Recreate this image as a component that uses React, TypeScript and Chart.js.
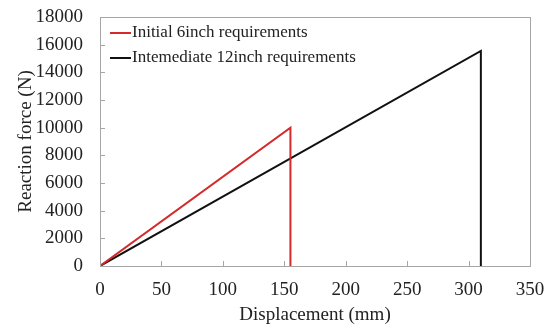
import React, { useEffect, useRef } from "react";
import { Chart, registerables } from "chart.js";

Chart.register(...registerables);

const seriesNames = ["Initial 6inch requirements", "Intemediate 12inch requirements"];
const seriesColors = ["#d42a2a", "#111111"];
const initialX = [0, 155, 155];
const initialY = [0, 10000, 0];
const intermediateX = [0, 310, 310];
const intermediateY = [0, 15550, 0];
const xTicks = [0, 50, 100, 150, 200, 250, 300, 350];
const yTicks = [0, 2000, 4000, 6000, 8000, 10000, 12000, 14000, 16000, 18000];

const FONT = "'Liberation Serif', 'Times New Roman', serif";
const AXIS_COLOR = "#a6a6a6";

const framePlugin = {
  id: "frame",
  afterDraw(chart: any) {
    const { ctx, chartArea } = chart;
    const xs = chart.scales.x;
    const ys = chart.scales.y;
    ctx.save();
    ctx.strokeStyle = AXIS_COLOR;
    ctx.lineWidth = 1;
    ctx.strokeRect(chartArea.left + 0.5, chartArea.top + 0.5, chartArea.right - chartArea.left, chartArea.bottom - chartArea.top);
    ctx.beginPath();
    xTicks.forEach((v) => {
      const px = Math.round(xs.getPixelForValue(v)) + 0.5;
      ctx.moveTo(px, chartArea.bottom);
      ctx.lineTo(px, chartArea.bottom - 5);
    });
    yTicks.forEach((v) => {
      const py = Math.round(ys.getPixelForValue(v)) + 0.5;
      ctx.moveTo(chartArea.left, py);
      ctx.lineTo(chartArea.left + 5, py);
    });
    ctx.stroke();
    // legend
    const rows = [chartArea.top + 16, chartArea.top + 41];
    ctx.font = `17px ${FONT}`;
    ctx.textBaseline = "middle";
    ctx.fillStyle = "#222";
    seriesNames.forEach((name, i) => {
      ctx.strokeStyle = seriesColors[i];
      ctx.lineWidth = 2;
      ctx.beginPath();
      ctx.moveTo(chartArea.left + 10, rows[i]);
      ctx.lineTo(chartArea.left + 31, rows[i]);
      ctx.stroke();
      ctx.fillText(name, chartArea.left + 32, rows[i]);
    });
    ctx.restore();
  },
};

export default function App() {
  const ref = useRef<HTMLCanvasElement>(null);
  useEffect(() => {
    if (!ref.current) return;
    const chart = new Chart(ref.current, {
      type: "scatter",
      data: {
        datasets: [
          {
            label: seriesNames[0],
            data: initialX.map((x, i) => ({ x, y: initialY[i] })),
            showLine: true,
            borderColor: seriesColors[0],
            borderWidth: 2,
            pointRadius: 0,
            tension: 0,
          },
          {
            label: seriesNames[1],
            data: intermediateX.map((x, i) => ({ x, y: intermediateY[i] })),
            showLine: true,
            borderColor: seriesColors[1],
            borderWidth: 2,
            pointRadius: 0,
            tension: 0,
          },
        ],
      },
      options: {
        animation: false,
        responsive: false,
        maintainAspectRatio: false,
        layout: { padding: { top: 17, right: 23, left: 0, bottom: 0 } },
        plugins: { legend: { display: false }, tooltip: { enabled: false } },
        scales: {
          x: {
            type: "linear",
            min: 0,
            max: 350,
            afterFit: (s: any) => { s.height = 60; s.paddingLeft = 0; s.paddingRight = 0; },
            afterBuildTicks: (s: any) => { s.ticks = xTicks.map((v) => ({ value: v })); },
            grid: { display: false, drawTicks: false },
            border: { display: false },
            ticks: { color: "#222", font: { family: FONT, size: 19 }, padding: 13, callback: (v: any) => String(v) },
            title: { display: true, text: "Displacement (mm)", color: "#222", font: { family: FONT, size: 19 }, padding: { top: 0, bottom: 0 } },
          },
          y: {
            type: "linear",
            min: 0,
            max: 18000,
            afterFit: (s: any) => { s.width = 100; s.paddingTop = 0; s.paddingBottom = 0; },
            afterBuildTicks: (s: any) => { s.ticks = yTicks.map((v) => ({ value: v })); },
            grid: { display: false, drawTicks: false },
            border: { display: false },
            ticks: { color: "#222", font: { family: FONT, size: 19 }, padding: 17, callback: (v: any) => String(v) },
            title: { display: true, text: "Reaction force (N)", color: "#222", font: { family: FONT, size: 19 }, padding: { top: 15, bottom: 0 } },
          },
        },
      },
      plugins: [framePlugin],
    });
    return () => chart.destroy();
  }, []);
  return (
    <div style={{ position: "fixed", left: 0, top: 0, width: 553, height: 326, background: "#fff" }}>
      <canvas ref={ref} width={553} height={326} style={{ width: 553, height: 326 }} />
    </div>
  );
}
